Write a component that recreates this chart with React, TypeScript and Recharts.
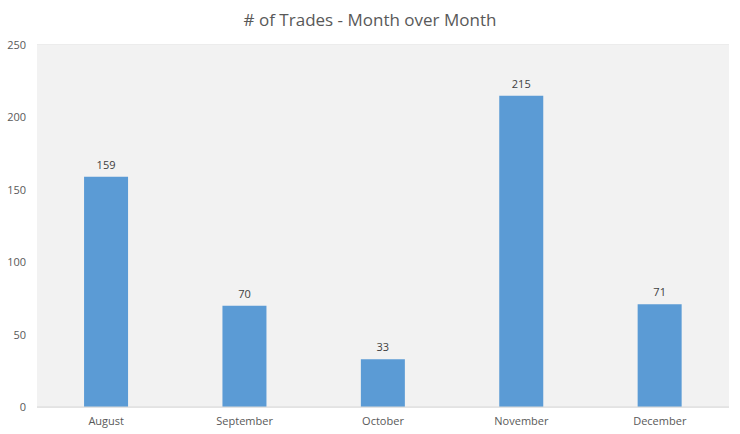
import React from "react";
import { BarChart, Bar, XAxis, YAxis, CartesianGrid, LabelList, ReferenceArea } from "recharts";

const months = ["August", "September", "October", "November", "December"];
const trades = [159, 70, 33, 215, 71];
const yTicks = [0, 50, 100, 150, 200, 250];

const data = months.map((m, i) => ({ month: m, trades: trades[i] }));

const FONT = "'Open Sans', 'Noto Sans', sans-serif";

export default function App() {
  return (
    <div style={{ position: "absolute", left: 0, top: 0, width: 740, height: 434, background: "#ffffff", fontFamily: FONT }}>
      <div
        style={{
          position: "absolute",
          left: 0,
          top: 8,
          width: 740,
          textAlign: "center",
          fontSize: 17,
          color: "#595959",
          fontFamily: FONT,
        }}
      >
        # of Trades - Month over Month
      </div>
      <BarChart
        width={740}
        height={434}
        data={data}
        margin={{ top: 45, right: 11, bottom: 0, left: 0 }}
        barCategoryGap="34%"
      >
        <ReferenceArea y1={0} y2={250} fill="#f2f2f2" fillOpacity={1} stroke="none" ifOverflow="extendDomain" />
        <CartesianGrid vertical={false} stroke="#d9d9d9" strokeWidth={1} />
        <XAxis
          dataKey="month"
          height={27}
          axisLine={{ stroke: "#d9d9d9" }}
          tickLine={false}
          tick={{ fill: "#595959", fontSize: 11, fontFamily: FONT }}
          tickMargin={4}
        />
        <YAxis
          domain={[0, 250]}
          ticks={yTicks}
          width={37}
          axisLine={false}
          tickLine={false}
          tick={{ fill: "#595959", fontSize: 11, fontFamily: FONT }}
          tickMargin={5}
        />
        <Bar dataKey="trades" fill="#5b9bd5" isAnimationActive={false}>
          <LabelList dataKey="trades" position="top" offset={8} fill="#404040" fontSize={11} fontFamily={FONT} />
        </Bar>
      </BarChart>
    </div>
  );
}
